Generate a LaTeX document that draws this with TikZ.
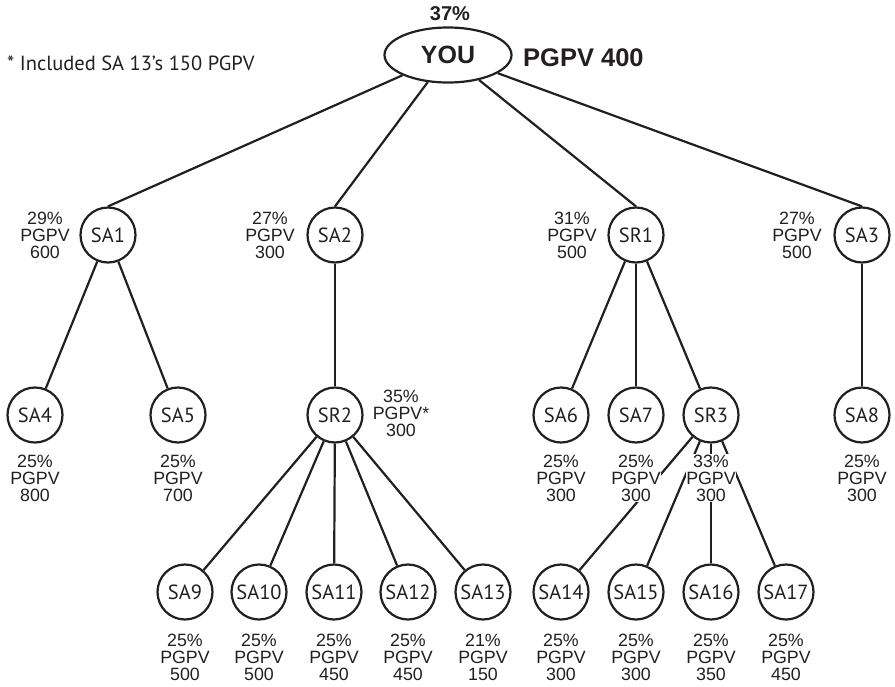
\documentclass[tikz,border=0pt]{standalone}
\usepackage{fontspec}
\setmainfont{Liberation Sans}
\newfontfamily\myr{PT Sans}
\usetikzlibrary{shapes.geometric}
\definecolor{ink}{HTML}{231F20}
\begin{document}
\begin{tikzpicture}[x=1pt,y=-1pt,
  circ/.style={circle, draw=ink, line width=2.2pt, minimum size=55pt, inner sep=0pt,
    font=\myr\fontsize{20.5}{20.5}\selectfont, text=ink},
  lab/.style={align=center, font=\fontsize{17.8}{17}\selectfont, text=ink,
    fill=white, inner sep=0.5pt},
  conn/.style={draw=ink, line width=2.2pt}]
\useasboundingbox (0,0) rectangle (895,686);
% root
\node[ellipse, draw=ink, line width=2.2pt, minimum width=127pt, minimum height=55pt,
  inner sep=0pt, font=\bfseries\fontsize{25}{25}\selectfont, text=ink] (you) at (448,55) {YOU};
\node[font=\bfseries\fontsize{20}{20}\selectfont, text=ink] (pct) at (450,14) {37\%};
\node[font=\bfseries\fontsize{25.5}{25.5}\selectfont, text=ink, anchor=west, inner sep=0pt] (pv) at (523,58) {PGPV 400};
\node[font=\myr\fontsize{20.5}{20.5}\selectfont, text=ink, anchor=west, inner sep=0pt] (note) at (7,63) {* Included SA 13’s 150 PGPV};
% level 1
\node[circ] (sa1) at (108,235) {SA1};
\node[circ] (sa2) at (335,235) {SA2};
\node[circ] (sr1) at (636,235) {SR1};
\node[circ] (sa3) at (862,235) {SA3};
% level 2
\node[circ] (sa4) at (35,415) {SA4};
\node[circ] (sa5) at (178,415) {SA5};
\node[circ] (sr2) at (335,415) {SR2};
\node[circ] (sa6) at (561,415) {SA6};
\node[circ] (sa7) at (636,415) {SA7};
\node[circ] (sr3) at (711,415) {SR3};
\node[circ] (sa8) at (862,415) {SA8};
% level 3
\node[circ] (sa9) at (185,592) {SA9};
\node[circ] (sa10) at (259,592) {SA10};
\node[circ] (sa11) at (334,592) {SA11};
\node[circ] (sa12) at (408,592) {SA12};
\node[circ] (sa13) at (483,592) {SA13};
\node[circ] (sa14) at (561,592) {SA14};
\node[circ] (sa15) at (636,592) {SA15};
\node[circ] (sa16) at (711,592) {SA16};
\node[circ] (sa17) at (786,592) {SA17};
% connectors
\draw[conn] (you) -- (sa1.north);
\draw[conn] (you) -- (sa2.north);
\draw[conn] (you) -- (sr1.north);
\draw[conn] (you) -- (sa3.north);
\draw[conn] (sa1) -- (sa4);
\draw[conn] (sa1) -- (sa5);
\draw[conn] (sa2) -- (sr2);
\draw[conn] (sr1) -- (sa6);
\draw[conn] (sr1) -- (sa7);
\draw[conn] (sr1) -- (sr3);
\draw[conn] (sa3) -- (sa8);
\draw[conn] (sr2) -- (sa9);
\draw[conn] (sr2) -- (sa10);
\draw[conn] (sr2) -- (sa11);
\draw[conn] (sr2) -- (sa12);
\draw[conn] (sr2) -- (sa13);
\draw[conn] (sr3) -- (sa14);
\draw[conn] (sr3) -- (sa15);
\draw[conn] (sr3) -- (sa16);
\draw[conn] (sr3) -- (sa17);
% labels
\node[lab] (l1) at (45,235) {29\%\\PGPV\\600};
\node[lab] (l2) at (270,235) {27\%\\PGPV\\300};
\node[lab] (l3) at (572,235) {31\%\\PGPV\\500};
\node[lab] (l4) at (797,235) {27\%\\PGPV\\500};
\node[lab] (l5) at (35,478) {25\%\\PGPV\\800};
\node[lab] (l6) at (178,478) {25\%\\PGPV\\700};
\node[lab] (l7) at (401,413) {35\%\\PGPV*\\300};
\node[lab] (l8) at (561,478) {25\%\\PGPV\\300};
\node[lab] (l9) at (636,478) {25\%\\PGPV\\300};
\node[lab] (l10) at (711,478) {33\%\\PGPV\\300};
\node[lab] (l11) at (862,478) {25\%\\PGPV\\300};
\node[lab] (l12) at (185,657) {25\%\\PGPV\\500};
\node[lab] (l13) at (259,657) {25\%\\PGPV\\500};
\node[lab] (l14) at (334,657) {25\%\\PGPV\\450};
\node[lab] (l15) at (408,657) {25\%\\PGPV\\450};
\node[lab] (l16) at (483,657) {21\%\\PGPV\\150};
\node[lab] (l17) at (561,657) {25\%\\PGPV\\300};
\node[lab] (l18) at (636,657) {25\%\\PGPV\\300};
\node[lab] (l19) at (711,657) {25\%\\PGPV\\350};
\node[lab] (l20) at (786,657) {25\%\\PGPV\\450};
\end{tikzpicture}
\end{document}
